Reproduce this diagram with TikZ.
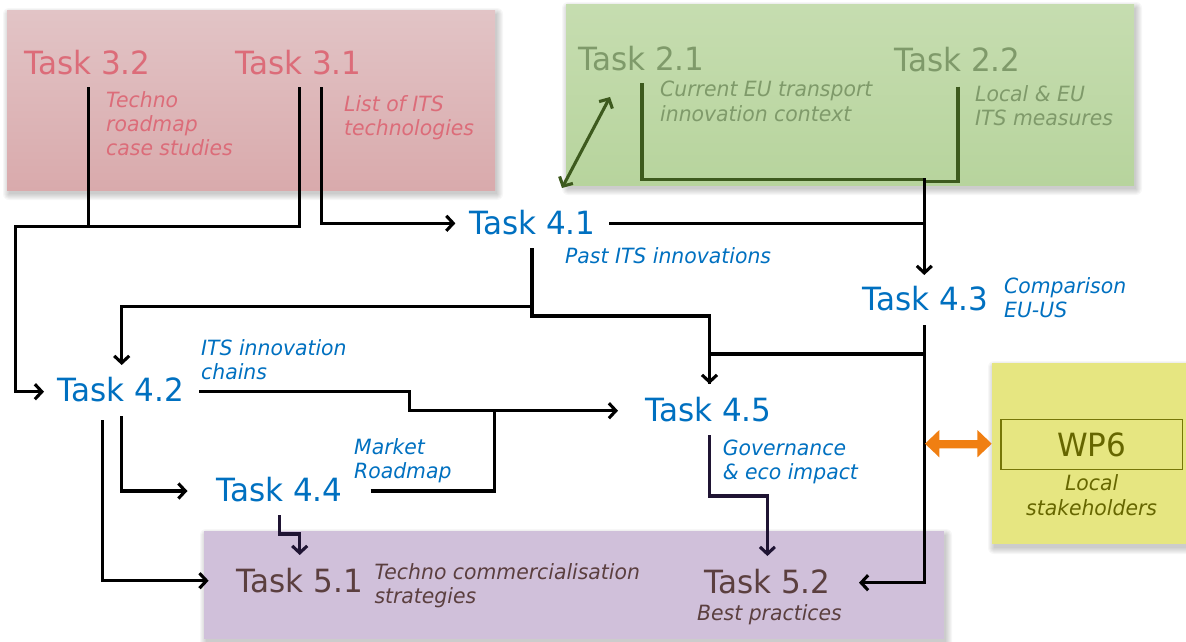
\documentclass[tikz,border=0pt]{standalone}
\usepackage{fontspec}
\setmainfont{DejaVu Sans}[FakeStretch=0.97]
\usetikzlibrary{arrows.meta}

\definecolor{redtop}{HTML}{E2C4C6}
\definecolor{redbot}{HTML}{D9AAAC}
\definecolor{redtext}{HTML}{DC6C79}
\definecolor{greentop}{HTML}{C6DDB0}
\definecolor{greenbot}{HTML}{B7D49D}
\definecolor{greentext}{HTML}{7F9A6A}
\definecolor{greenline}{HTML}{3D5A1E}
\definecolor{purplebox}{HTML}{D0C0DA}
\definecolor{browntext}{HTML}{5B3F3F}
\definecolor{yellowbox}{HTML}{E6E681}
\definecolor{olive}{HTML}{666600}
\definecolor{oliveline}{HTML}{767608}
\definecolor{taskblue}{HTML}{0070C0}
\definecolor{darkflow}{HTML}{1F1433}
\definecolor{wporange}{HTML}{F07F12}

% soft shadow under a box: layered translucent rectangles
\newcommand\boxshade[4]{%
  \foreach \s in {0,1,...,6}{%
    \fill[black, opacity=0.03, rounded corners=\s pt]
      (#1+2-\s, #2+4-\s) rectangle (#3+2+\s, #4+4+\s);
  }}

\begin{document}
\begin{tikzpicture}[x=1pt, y=-1pt,
  task/.style={inner sep=0pt, anchor=base west, font=\fontsize{32}{38}\selectfont},
  % multi-line notes are placed by the baseline of their last line
  note/.style={inner sep=0pt, anchor=base west, align=left,
               font=\fontsize{21}{24.3}\selectfont\itshape},
  flow/.style={line width=3.1pt, draw=black, line join=miter},
  tip/.style={-{Straight Barb[length=7pt,width=15pt]}},
  twotips/.style={{Straight Barb[length=7pt,width=15pt]}-{Straight Barb[length=7pt,width=15pt]}},
]
\useasboundingbox (0,0) rectangle (1186,641);

% ---------- work package backgrounds ----------
\boxshade{7}{10}{495}{190}
\shade[top color=redtop, bottom color=redbot] (7,10) rectangle (495,190);
\boxshade{566}{4}{1134}{185}
\shade[top color=greentop, bottom color=greenbot] (566,4) rectangle (1134,185);
\boxshade{204}{531}{944}{639}
\fill[purplebox] (204,531) rectangle (944,639);
\boxshade{992}{363}{1190}{544}
\fill[yellowbox] (992,363) rectangle (1190,544);

% ---------- ports and junctions ----------
\coordinate (p32)   at (88.5,87);
\coordinate (p31a)  at (299.5,87);
\coordinate (p31b)  at (321.5,87);
\coordinate (j3)    at (88.5,226.7);
\coordinate (in42a) at (44,391.7);
\coordinate (in41)  at (455.4,223.3);
\coordinate (p21)   at (642,83.3);
\coordinate (p22)   at (958,86.7);
\coordinate (j2)    at (924.3,179.3);
\coordinate (out41) at (609.3,223.3);
\coordinate (in43)  at (924.3,275);
\coordinate (d41)   at (532,248.3);
\coordinate (in42b) at (121.7,365);
\coordinate (in45a) at (709.5,384);
\coordinate (out43) at (924.3,325);
\coordinate (in52a) at (859,582.7);
\coordinate (out42) at (199,391.7);
\coordinate (in45b) at (618,410.7);
\coordinate (out44) at (370.5,491);
\coordinate (d42a)  at (121.7,416);
\coordinate (in44)  at (187.5,491);
\coordinate (d42b)  at (102.6,420);
\coordinate (in51a) at (208.6,580.7);
\coordinate (d44)   at (279.4,515);
\coordinate (in51b) at (299.7,555);
\coordinate (d45)   at (709.5,435);
\coordinate (in52b) at (767.4,556);
\coordinate (e21)   at (610,97);
\coordinate (e41)   at (562,188);
\coordinate (wpl)   at (925,443.7);

% ---------- connectors ----------
% WP3 into Task 4.1 and Task 4.2
\draw[flow] (p32) -- (j3);
\draw[flow, tip] (p31a) |- (j3) -| (15.3,391.7) -- (in42a);
\draw[flow, tip] (p31b) |- (in41);
% WP2 into Task 4.3
\draw[line width=3.1pt, greenline] (p21) |- (j2);
\draw[line width=3.1pt, greenline] (p22) |- (924.3,181.5);
\draw[flow, tip] (924.3,178) -- (in43);
\draw[flow] (out41) -- (924.3,223.3);
\draw[line width=3.1pt, greenline, twotips] (e41) -- (e21);
% Task 4.1 onwards
\draw[flow, tip] (d41) |- (709.5,316) -- (in45a);
\draw[flow, tip] (532,306.7) -| (in42b);
% Task 4.3 onwards
\draw[flow, tip] (out43) |- (in52a);
\draw[flow] (924.3,354) -| (in45a);
% Task 4.2 and Task 4.4 into Task 4.5
\draw[flow, tip] (out42) -| (409.5,410.7) -- (in45b);
\draw[flow] (out44) -| (494.8,410.7);
% Task 4.2 downwards
\draw[flow, tip] (d42a) |- (in44);
\draw[flow, tip] (d42b) |- (in51a);
% into WP5
\draw[flow, darkflow, tip] (d44) -- (279.4,534) -| (in51b);
\draw[flow, darkflow, tip] (d45) -- (709.5,496) -| (in52b);

% WP6 exchange
\fill[wporange] (wpl) -- (939.3,430) -- (939.3,440) -- (977.4,440) -- (977.4,430)
  -- (991.7,443.7) -- (977.4,457.3) -- (977.4,448.3) -- (939.3,448.3)
  -- (939.3,457.3) -- cycle;

% ---------- WP3 ----------
\node[task, text=redtext] (t32) at (24,74) {Task 3.2};
\node[task, text=redtext] (t31) at (235,74) {Task 3.1};
\node[note, text=redtext] (n32) at (106,155.9) {Techno\\roadmap\\case studies};
\node[note, text=redtext] (n31) at (344,135.3) {List of ITS\\technologies};

% ---------- WP2 ----------
\node[task, text=greentext] (t21) at (578,70) {Task 2.1};
\node[task, text=greentext] (t22) at (894,71) {Task 2.2};
\node[note, text=greentext] (n21) at (660,121) {Current EU transport\\innovation context};
\node[note, text=greentext] (n22) at (975,125.3) {Local \& EU\\ITS measures};

% ---------- WP4 ----------
\node[task, text=taskblue] (t41) at (469,234) {Task 4.1};
\node[note, text=taskblue] (n41) at (565,263.3) {Past ITS innovations};
\node[task, text=taskblue] (t43) at (862,310.7) {Task 4.3};
\node[note, text=taskblue] (n43) at (1004,317.6) {Comparison\\EU-US};
\node[task, text=taskblue] (t42) at (57.4,401.7) {Task 4.2};
\node[note, text=taskblue] (n42) at (201,379.3) {ITS innovation\\chains};
\node[task, text=taskblue] (t45) at (645,421.7) {Task 4.5};
\node[note, text=taskblue] (n45) at (722.6,479.3) {Governance\\\& eco impact};
\node[task, text=taskblue] (t44) at (216,501.7) {Task 4.4};
\node[note, text=taskblue] (n44) at (354,478.3) {Market\\Roadmap};

% ---------- WP5 ----------
\node[task, text=browntext] (t51) at (236.5,592.7) {Task 5.1};
\node[note, text=browntext] (n51) at (374.3,603.8) {Techno commercialisation\\strategies};
\node[task, text=browntext] (t52) at (704,593.3) {Task 5.2};
\node[note, text=browntext, anchor=base] (n52) at (769.5,620.7) {Best practices};

% ---------- WP6 ----------
\node[draw=oliveline, line width=1.6pt, text=olive, inner sep=0pt,
      minimum width=181.8pt, minimum height=49.8pt,
      font=\fontsize{32}{38}\selectfont] (wp6) at (1091.6,444.4) {WP6};
\node[note, text=olive, anchor=base, align=center] (n6) at (1091.6,515) {Local\\stakeholders};

\end{tikzpicture}
\end{document}
